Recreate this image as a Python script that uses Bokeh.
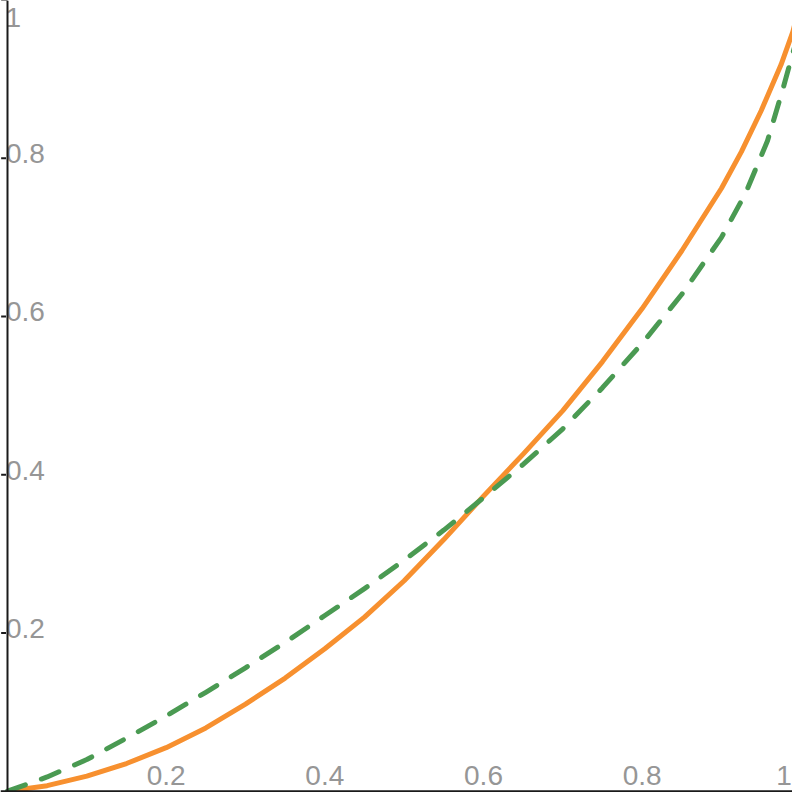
from bokeh.plotting import figure
from bokeh.models import Range1d, Span
from bokeh.core.properties import value
from bokeh.embed import file_html
from bokeh.resources import INLINE

# Orange solid curve
orange_x = [0.0, 0.05, 0.1, 0.15, 0.2, 0.25, 0.3, 0.35, 0.4, 0.45, 0.5, 0.55,
            0.6, 0.65, 0.7, 0.75, 0.8, 0.85, 0.9, 0.925, 0.95, 0.975, 0.99, 1.0]
orange_y = [0.0, 0.007, 0.019, 0.035, 0.055, 0.08, 0.11, 0.143, 0.18, 0.22, 0.266, 0.318,
            0.373, 0.426, 0.481, 0.543, 0.61, 0.683, 0.762, 0.808, 0.86, 0.918, 0.96, 1.0]

# Green dashed curve
green_x = [0.0, 0.05, 0.1, 0.15, 0.2, 0.25, 0.3, 0.35, 0.4, 0.45, 0.5, 0.55,
           0.6, 0.65, 0.7, 0.75, 0.8, 0.85, 0.9, 0.93, 0.958, 0.977, 0.996, 1.0]
green_y = [0.0, 0.018, 0.04, 0.067, 0.095, 0.125, 0.156, 0.188, 0.222, 0.256, 0.292, 0.33,
           0.371, 0.413, 0.458, 0.51, 0.566, 0.628, 0.70, 0.755, 0.822, 0.886, 0.955, 1.0]

x_ticks = [0.2, 0.4, 0.6, 0.8, 1.0]
x_tick_labels = ["0.2", "0.4", "0.6", "0.8", "1"]
y_ticks = [0.2, 0.4, 0.6, 0.8, 1.0]
y_tick_labels = ["0.2", "0.4", "0.6", "0.8", "1"]

AXIS = "#1a1a1a"
LABEL = "#969696"
FONT = value("Liberation Sans")
FS = "28px"

p = figure(width=792, height=792,
           x_range=Range1d(-0.00882, 0.9895), y_range=Range1d(-0.00164, 0.99931),
           output_backend="svg", toolbar_location=None, min_border=0,
           x_axis_type=None, y_axis_type=None, outline_line_color=None)
p.background_fill_color = "white"

# axes
p.add_layout(Span(location=0, dimension="height", line_color=AXIS, line_width=2))
p.add_layout(Span(location=0, dimension="width", line_color=AXIS, line_width=2))
p.segment(x0=x_ticks, y0=[0] * len(x_ticks), x1=x_ticks, y1=[-0.02] * len(x_ticks),
          line_color=AXIS, line_width=2)
p.segment(x0=[0] * len(y_ticks), y0=y_ticks, x1=[-0.008] * len(y_ticks), y1=y_ticks,
          line_color=AXIS, line_width=2)

# curves
p.line(orange_x, orange_y, line_color="#F7902F", line_width=5, line_join="round")
p.line(green_x, green_y, line_color="#4A9A52", line_width=5, line_dash="19 17",
       line_cap="round", line_join="round")

# x tick labels
p.text(x=x_ticks[:-1], y=[0] * (len(x_ticks) - 1), text=x_tick_labels[:-1],
       text_align="center", text_baseline="middle", y_offset=-16,
       text_font=FONT, text_font_size=FS, text_color=LABEL)
p.text(x=x_ticks[-1:], y=[0], text=x_tick_labels[-1:],
       text_align="right", text_baseline="middle", x_offset=-9, y_offset=-16,
       text_font=FONT, text_font_size=FS, text_color=LABEL)

# y tick labels
p.text(x=[0] * (len(y_ticks) - 1), y=y_ticks[:-1], text=y_tick_labels[:-1],
       text_align="left", text_baseline="middle", x_offset=-1.5, y_offset=-4.5,
       text_font=FONT, text_font_size=FS, text_color=LABEL,
       background_fill_color="white")
p.text(x=[0], y=y_ticks[-1:], text=y_tick_labels[-1:],
       text_align="left", text_baseline="middle", x_offset=-2, y_offset=18,
       text_font=FONT, text_font_size=FS, text_color=LABEL,
       background_fill_color="white")

open("out.html", "w").write(file_html(p, INLINE))
